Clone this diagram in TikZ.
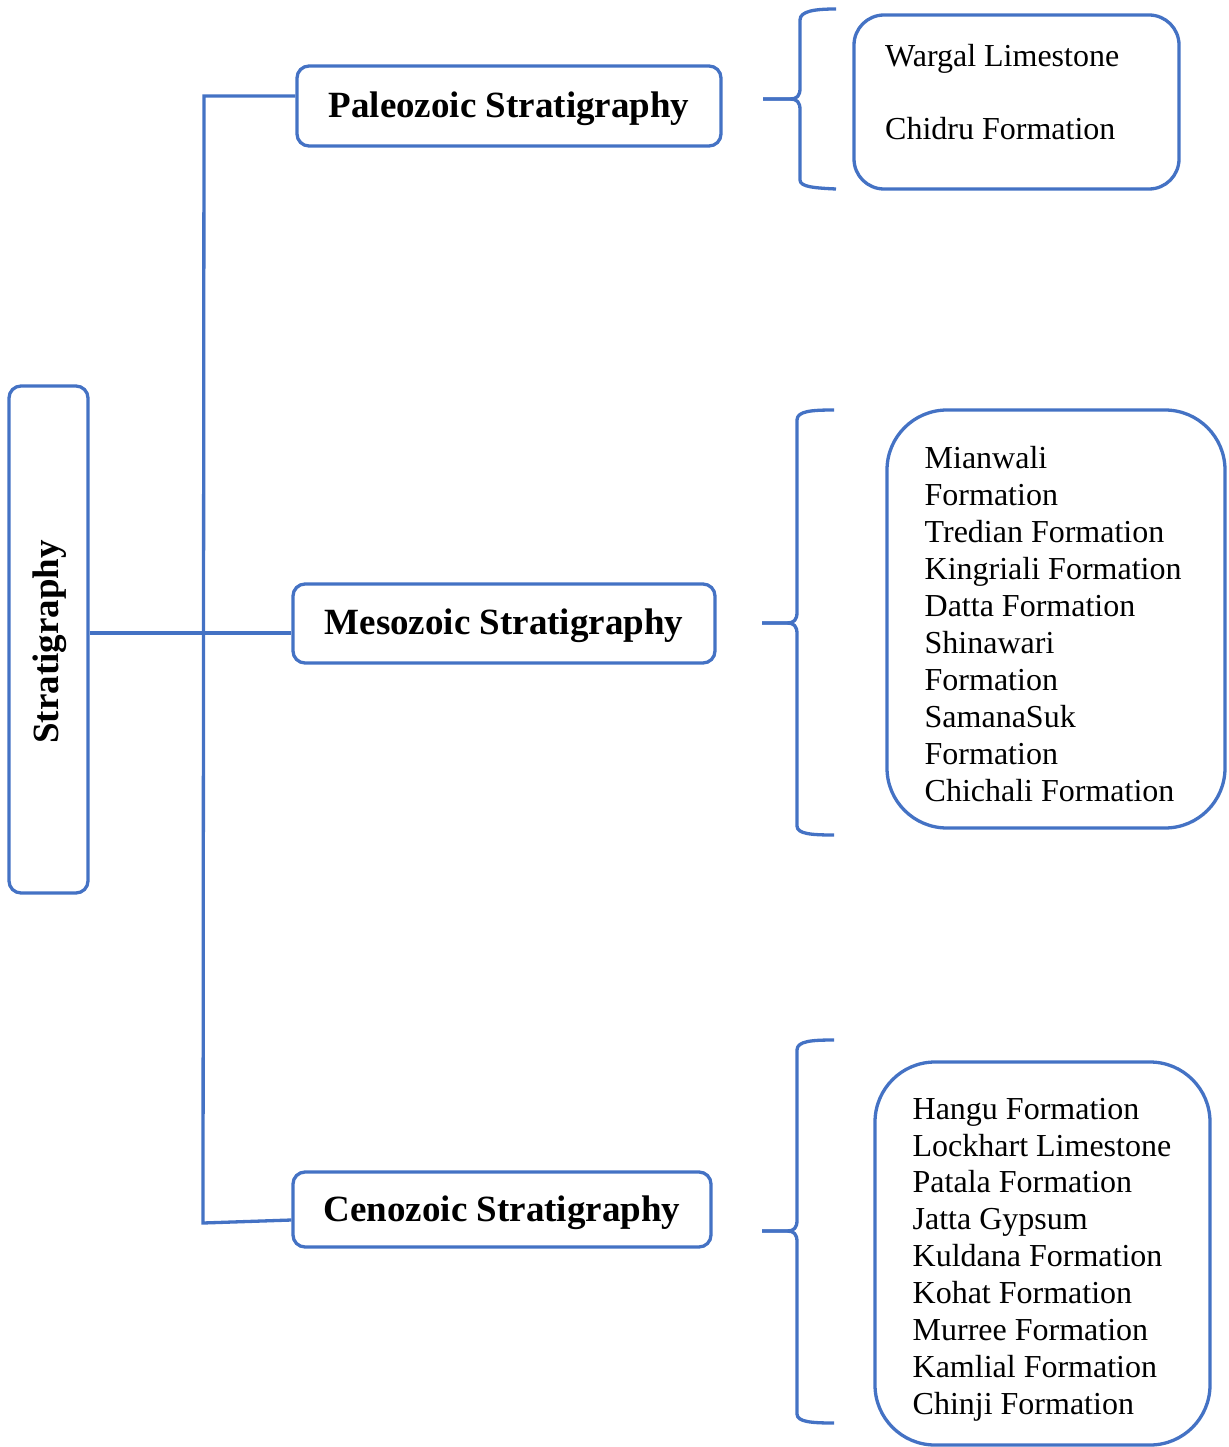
\documentclass[tikz,border=0pt]{standalone}
\usepackage{fontspec}
\setmainfont{Liberation Serif}
\definecolor{bl}{HTML}{4472C4}
\newcommand{\lowerby}[2]{\raisebox{-#1}[\height][\depth]{#2}}
\begin{document}
\begin{tikzpicture}[x=1pt,y=-1pt,
  line width=3.3pt,
  conn/.style={draw=bl,line width=3.3pt},
  head/.style={draw=bl,rounded corners=12pt,fill=white,inner sep=0pt,
    font=\fontsize{37}{42}\selectfont\bfseries},
  listbox/.style={draw=bl,fill=white,inner sep=0pt},
  listtext/.style={anchor=west,inner sep=0pt,align=left,
    font=\fontsize{32}{36.9}\selectfont}]
\useasboundingbox (0,0) rectangle (1228,1447);
% root
\node[draw=bl,rounded corners=12pt,minimum width=79pt,minimum height=507pt,inner sep=0pt]
  (root) at (48.5,639.5) {};
\node[rotate=90,inner sep=0pt,font=\fontsize{37}{42}\selectfont\bfseries] (roottext) at (49.5,642) {Stratigraphy};
% headings
\node[head,minimum width=424pt,minimum height=80pt] (pal) at (509,106) {\lowerby{2.5pt}{Paleozoic Stratigraphy}};
\node[head,minimum width=422pt,minimum height=79pt] (meso) at (504,623.5) {\lowerby{2.5pt}{Mesozoic Stratigraphy}};
\node[head,minimum width=418pt,minimum height=75pt] (ceno) at (502,1209.5) {\lowerby{3.5pt}{Cenozoic Stratigraphy}};
% trunk
\coordinate (t1) at (204,96);
\coordinate (t2) at (203,1223);
\draw[conn] ([yshift=10pt]pal.west) -- (t1) -- (t2) -- ([yshift=-10.5pt]ceno.west);
\draw[conn] ([yshift=6.5pt]root.east) -- ([yshift=-9.5pt]meso.west);
% list boxes
\node[listbox,rounded corners=30pt,minimum width=325pt,minimum height=174pt] (pallist) at (1016.5,102) {};
\node[listtext] (paltext) at (883.5,92) {Wargal Limestone\\[36pt]Chidru Formation};
\node[listbox,rounded corners=60pt,minimum width=338pt,minimum height=418pt] (mesolist) at (1056,619) {};
\node[listtext] (mesotext) at (923,624) {Mianwali\\Formation\\Tredian Formation\\Kingriali Formation\\Datta Formation\\Shinawari\\Formation\\SamanaSuk\\Formation\\Chichali Formation};
\node[listbox,rounded corners=60pt,minimum width=335pt,minimum height=383pt] (cenolist) at (1042.5,1253.5) {};
\node[listtext] (cenotext) at (911,1259.5) {Hangu Formation\\Lockhart Limestone\\Patala Formation\\Jatta Gypsum\\Kuldana Formation\\Kohat Formation\\Murree Formation\\Kamlial Formation\\Chinji Formation};
% braces
\draw[conn,line join=round] (836,9) .. controls (815,9) and (800,11) .. (800,20) -- (800,88)
  .. controls (800,96) and (797,99) .. (790,99) -- (763,99);
\draw[conn,line join=round] (763,99) -- (790,99) .. controls (797,99) and (800,102) .. (800,110)
  -- (800,180) .. controls (800,187) and (815,188) .. (836,189);
\draw[conn,line join=round] (834,410) .. controls (812,410) and (797,411) .. (797,420) -- (797,612)
  .. controls (797,620) and (794,623) .. (787,623) -- (762,623);
\draw[conn,line join=round] (762,623) -- (787,623) .. controls (794,623) and (797,626) .. (797,634)
  -- (797,826) .. controls (797,834) and (812,835) .. (834,835);
\draw[conn,line join=round] (834,1040) .. controls (812,1040) and (797,1041) .. (797,1050) -- (797,1220)
  .. controls (797,1228) and (794,1231) .. (787,1231) -- (762,1231);
\draw[conn,line join=round] (762,1231) -- (787,1231) .. controls (794,1231) and (797,1234) .. (797,1242)
  -- (797,1414) .. controls (797,1422) and (812,1423) .. (834,1423);
\end{tikzpicture}
\end{document}
